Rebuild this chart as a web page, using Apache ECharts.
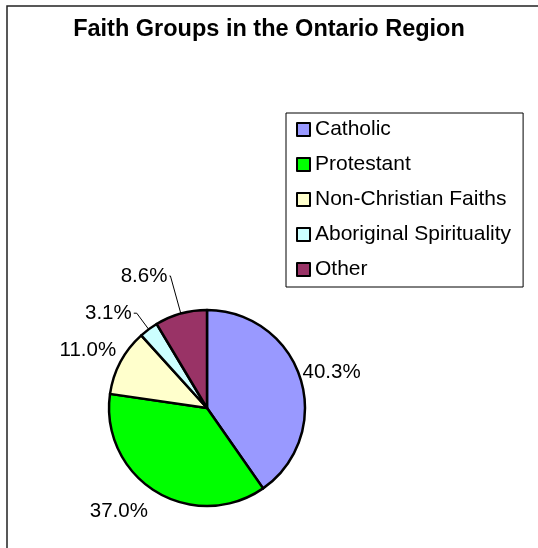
<!DOCTYPE html>
<html>
<head>
<meta charset="utf-8">
<script src="https://cdn.jsdelivr.net/npm/echarts@6/dist/echarts.min.js"></script>
<style>
html,body{margin:0;padding:0;background:#fff;}
#chart{width:538px;height:548px;}
</style>
</head>
<body>
<div id="chart"></div>
<script>
// ---- data ----
const titleText = 'Faith Groups in the Ontario Region';
const categories = ['Catholic', 'Protestant', 'Non-Christian Faiths', 'Aboriginal Spirituality', 'Other'];
const values = [40.3, 37.0, 11.0, 3.1, 8.6];

// ---- styling ----
const colors = ['#9999FF', '#00FF00', '#FFFFCC', '#CCFFFF', '#993366'];
const lineStyles = [
  {show: false, length: 0, length2: 0},
  {show: false, length: 24, length2: 0},
  {show: false, length: 5, length2: 0},
  {show: true, length: 20, length2: 3},
  {show: true, length: 39, length2: 1}
];
const labelShift = [[0, -6], [7, 0], [2, -9], [0, 0], [0, 0]];
const FONT = '"Liberation Sans", Arial, sans-serif';

const chart = echarts.init(document.getElementById('chart'), null, {renderer: 'canvas'});

const seriesData = categories.map((name, i) => ({
  name: name,
  value: values[i],
  itemStyle: {color: colors[i]},
  labelLine: lineStyles[i]
}));

chart.setOption({
  animation: false,
  backgroundColor: '#ffffff',
  graphic: [{
    type: 'rect',
    shape: {x: 7, y: 6, width: 700, height: 700},
    style: {fill: 'none', stroke: '#222', lineWidth: 1.5},
    silent: true,
    z: -1
  }],
  title: {
    text: titleText,
    left: 'center',
    top: 18,
    padding: 0,
    textStyle: {fontFamily: FONT, fontSize: 23.5, fontWeight: 'bold', color: '#000'}
  },
  legend: {
    orient: 'vertical',
    left: 286,
    top: 113,
    padding: [6, 12, 7, 10],
    itemGap: 14,
    itemWidth: 13,
    itemHeight: 13,
    icon: 'rect',
    backgroundColor: '#fff',
    borderColor: '#000',
    borderWidth: 1,
    borderRadius: 0,
    data: categories,
    itemStyle: {borderColor: '#000', borderWidth: 2},
    textStyle: {fontFamily: FONT, fontSize: 21, color: '#000', padding: [0, 0, 0, 0]}
  },
  series: [{
    type: 'pie',
    center: [207, 408],
    radius: 98,
    startAngle: 90,
    clockwise: true,
    avoidLabelOverlap: false,
    data: seriesData,
    itemStyle: {borderColor: '#000', borderWidth: 2.5},
    label: {
      show: true,
      position: 'outside',
      alignTo: 'none',
      distanceToLabelLine: 2,
      formatter: p => p.value.toFixed(1) + '%',
      fontFamily: FONT,
      fontSize: 20.5,
      color: '#000'
    },
    labelLine: {
      smooth: false,
      lineStyle: {color: '#000', width: 1}
    },
    labelLayout: function (params) {
      const s = labelShift[params.dataIndex];
      return {dx: s[0], dy: s[1]};
    },
    emphasis: {disabled: true}
  }]
});
</script>
</body>
</html>
